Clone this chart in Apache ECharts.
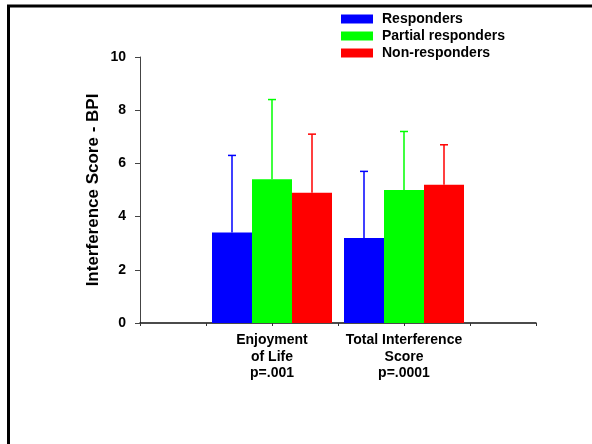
<!DOCTYPE html>
<html>
<head>
<meta charset="utf-8">
<script src="https://cdn.jsdelivr.net/npm/echarts@6/dist/echarts.min.js"></script>
<style>
html,body{margin:0;padding:0;background:#fff;}
#chart{width:592px;height:444px;}
</style>
</head>
<body>
<div id="chart"></div>
<script>
// Data
const categories = ['Enjoyment\nof Life\np=.001', 'Total Interference\nScore\np=.0001'];
const seriesNames = ['Responders', 'Partial responders', 'Non-responders'];
const responders = [3.4, 3.2];
const partialResponders = [5.4, 5.0];
const nonResponders = [4.9, 5.2];
const respondersUpper = [6.3, 5.7];
const partialUpper = [8.4, 7.2];
const nonUpper = [7.1, 6.7];
const yTicks = [0, 2, 4, 6, 8, 10];
const colors = ['#0000ff', '#00ff00', '#ff0000'];

const means = [responders, partialResponders, nonResponders];
const uppers = [respondersUpper, partialUpper, nonUpper];
const axisCats = [''].concat(categories, ['']);
const BAR_W = 40;
const font = '"Liberation Sans", Arial, sans-serif';

const barSeries = means.map((vals, s) => ({
  name: seriesNames[s],
  type: 'bar',
  xAxisIndex: 0,
  yAxisIndex: 0,
  barWidth: BAR_W,
  barGap: '0%',
  itemStyle: { color: colors[s] },
  data: [null].concat(vals, [null]),
  z: 2
}));

const errSeries = means.map((vals, s) => ({
  name: seriesNames[s] + ' err',
  type: 'custom',
  xAxisIndex: 0,
  yAxisIndex: 0,
  z: 3,
  silent: true,
  data: vals.map((v, i) => [i + 1, v, uppers[s][i]]),
  renderItem: function (params, api) {
    const lo = api.coord([api.value(0), api.value(1)]);
    const hi = api.coord([api.value(0), api.value(2)]);
    const x = lo[0] + (s - 1) * BAR_W;
    const cap = 4;
    return {
      type: 'group',
      children: [
        { type: 'line', shape: { x1: x, y1: lo[1], x2: x, y2: hi[1] }, style: { stroke: colors[s], lineWidth: 1.5 } },
        { type: 'line', shape: { x1: x - cap, y1: hi[1], x2: x + cap, y2: hi[1] }, style: { stroke: colors[s], lineWidth: 1.5 } }
      ]
    };
  }
}));

const chart = echarts.init(document.getElementById('chart'), null, { renderer: 'canvas' });
chart.setOption({
  backgroundColor: '#fff',
  animation: false,
  textStyle: { fontFamily: font },
  grid: { left: 140, right: 56, top: 57, bottom: 121, containLabel: false, outerBoundsMode: 'none' },
  legend: {
    data: seriesNames,
    orient: 'vertical',
    left: 336,
    top: 7,
    itemWidth: 32,
    itemHeight: 9,
    itemGap: 3,
    icon: 'rect',
    textStyle: { fontFamily: font, fontWeight: 'bold', fontSize: 14, lineHeight: 12, color: '#000', padding: [0, 0, 0, 4] }
  },
  xAxis: [
    {
      type: 'category',
      data: axisCats,
      boundaryGap: false,
      position: 'bottom',
      axisLine: { show: true, lineStyle: { color: '#111', width: 1.5 } },
      axisTick: { show: false },
      axisLabel: { fontFamily: font, fontWeight: 'bold', fontSize: 14, color: '#000', lineHeight: 16.5, margin: 9, interval: 0 },
      splitLine: { show: false }
    },
    {
      type: 'value',
      min: 0,
      max: 6,
      interval: 1,
      position: 'bottom',
      axisLine: { show: false },
      axisTick: { show: true, length: 3, lineStyle: { color: '#333' } },
      axisLabel: { show: false },
      splitLine: { show: false }
    }
  ],
  yAxis: {
    type: 'value',
    min: yTicks[0],
    max: yTicks[yTicks.length - 1],
    interval: yTicks[1] - yTicks[0],
    name: 'Interference Score - BPI',
    nameLocation: 'middle',
    nameGap: 38,
    nameMoveOverlap: false,
    nameTextStyle: { fontFamily: font, fontWeight: 'bold', fontSize: 17, color: '#000' },
    axisLine: { show: true, lineStyle: { color: '#444', width: 1 } },
    axisTick: { show: true, length: 5, lineStyle: { color: '#444' } },
    axisLabel: { fontFamily: font, fontWeight: 'bold', fontSize: 14, color: '#000', margin: 14 },
    splitLine: { show: false }
  },
  graphic: [
    {
      type: 'polyline',
      shape: { points: [[8.5, 444], [8.5, 6], [592, 6]] },
      style: { stroke: '#000', lineWidth: 3, fill: null },
      z: 100
    }
  ],
  series: barSeries.concat(errSeries)
});
</script>
</body>
</html>
